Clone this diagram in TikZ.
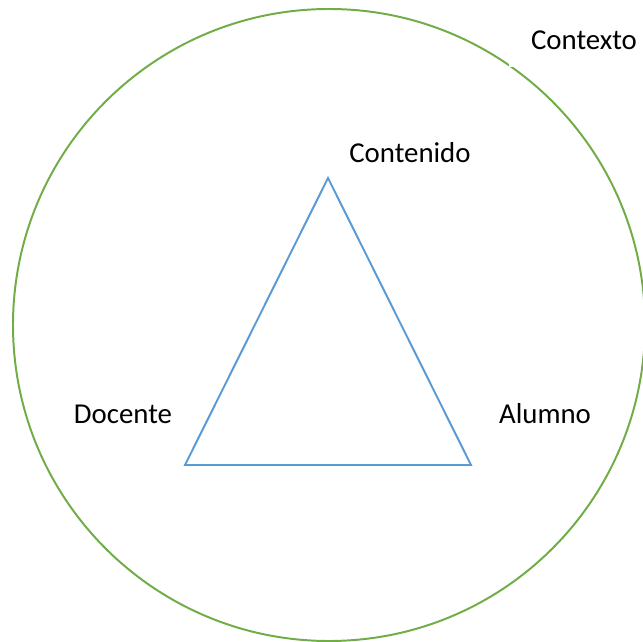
\documentclass[tikz,border=0pt]{standalone}
\usepackage{fontspec}
\setmainfont{Carlito}
\usetikzlibrary{positioning}
\definecolor{CircleGreen}{RGB}{112, 173, 71}
\definecolor{TriBlue}{RGB}{91, 155, 213}

\begin{document}
\begin{tikzpicture}[x=0.025cm, y=-0.025cm,
    label/.style={font=\fontsize{20.5}{24}\selectfont, inner sep=2pt}]
    \useasboundingbox (0,0) rectangle (643,642);
    % Contexto
    \draw[CircleGreen, line width=1.4pt] (329,325) circle (316);
    \node[label, fill=white, minimum width=3.75cm, minimum height=1.35cm,
          inner sep=0pt] (contexto) at (584,40) {Contexto};
    % Triangulo
    \coordinate (top) at (328,178);
    \coordinate (left) at (185,465);
    \coordinate (right) at (471,465);
    \draw[TriBlue, line width=1.4pt] (top) -- (right) -- (left) -- cycle;
    % Vertices
    \node[label] (contenido) at (410,153) {Contenido};
    \node[label] (docente) at (123,414) {Docente};
    \node[label] (alumno) at (545,414) {Alumno};
\end{tikzpicture}
\end{document}
